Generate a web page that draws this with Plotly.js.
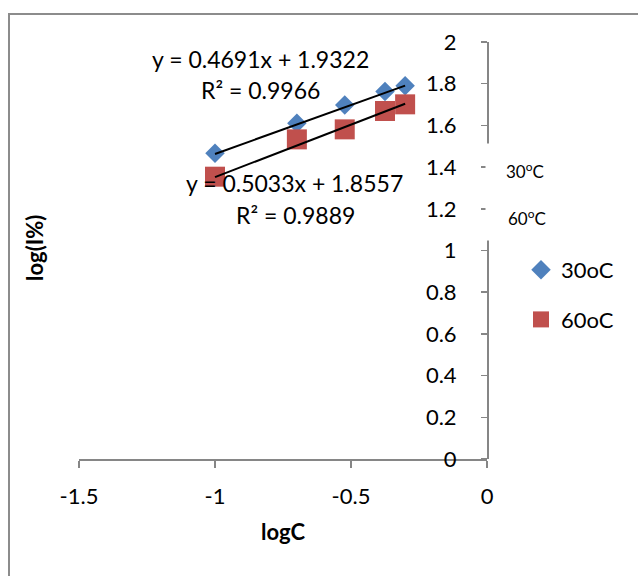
<!DOCTYPE html>
<html><head><meta charset="utf-8">
<script src="https://cdn.plot.ly/plotly-3.0.1.min.js"></script>
<style>html,body{margin:0;padding:0;overflow:hidden;background:#fff}
#frame{position:absolute;left:8px;top:13px;width:700px;height:700px;border:2px solid #8c8c8c;pointer-events:none}
</style></head><body>
<div id="chart" style="width:638px;height:576px"></div>
<div id="frame"></div>
<script>
const logC = [-1, -0.699, -0.523, -0.375, -0.301];
const y30 = [1.466, 1.610, 1.698, 1.762, 1.790];
const y60 = [1.354, 1.533, 1.581, 1.669, 1.701];
const trendX = [-1, -0.301];
const trend30 = [1.463, 1.791];
const trend60 = [1.352, 1.704];
const eq30 = ["y = 0.4691x + 1.9322", "R² = 0.9966"];
const eq60 = ["y = 0.5033x + 1.8557", "R² = 0.9889"];
const names = ["30oC", "60oC"];
const yTicks = [0, 0.2, 0.4, 0.6, 0.8, 1, 1.2, 1.4, 1.6, 1.8, 2];
const xTicks = [-1.5, -1, -0.5, 0];

const F = "Lato, 'Open Sans', sans-serif";
const FS = 22;
const traces = [
  {x: logC, y: y30, mode: 'markers', type: 'scatter', name: names[0], legendgroup: 'a',
   marker: {symbol: 'diamond', size: 15, color: '#4F81BD'}},
  {x: logC, y: y60, mode: 'markers', type: 'scatter', name: names[1], legendgroup: 'b',
   marker: {symbol: 'square', size: 20, color: '#C0504D'}},
  {x: trendX, y: trend30, mode: 'lines', type: 'scatter', showlegend: false,
   line: {color: '#000', width: 2}},
  {x: trendX, y: trend60, mode: 'lines', type: 'scatter', showlegend: false,
   line: {color: '#000', width: 2}}
];
const L = 79, R = 487, T = 42, B = 459;
const px = v => (v - L) / (R - L);
const py = v => (B - v) / (B - T);
const ann = (x, y, text, extra) => Object.assign({xref: 'paper', yref: 'paper', x: px(x), y: py(y), text: text,
  showarrow: false, xanchor: 'center', yanchor: 'middle'}, extra || {});
const EF = {family: F, size: 23};
const layout = {
  width: 638, height: 576,
  margin: {l: L, r: 638 - R, t: T, b: 576 - B, pad: 0},
  paper_bgcolor: '#fff', plot_bgcolor: 'rgba(0,0,0,0)',
  font: {family: F, size: FS, color: '#000'},
  showlegend: true,
  legend: {x: px(521), y: py(249), xanchor: 'left', yanchor: 'top', xref: 'paper', yref: 'paper',
           itemwidth: 30, font: {family: F, size: FS}, tracegroupgap: 18, traceorder: 'grouped',
           bgcolor: 'rgba(0,0,0,0)'},
  xaxis: {range: [-1.5, 0], tickvals: xTicks, ticktext: xTicks.map(String), showgrid: false, zeroline: false,
          showline: true, linecolor: '#868686', linewidth: 1.5, ticks: 'outside', ticklen: 7, tickcolor: '#868686',
          tickwidth: 1.5, ticklabelstandoff: 10, tickfont: {family: F, size: FS},
          title: {text: '<b>logC</b>', font: {family: F, size: FS}, standoff: 16}},
  yaxis: {range: [0, 2], tickvals: yTicks, ticktext: yTicks.map(String), showgrid: false, zeroline: false,
          anchor: 'free', position: 1, side: 'left',
          showline: true, linecolor: '#868686', linewidth: 1.5, ticks: 'outside', ticklen: 6, tickcolor: '#868686',
          tickwidth: 1.5, ticklabelstandoff: 20, tickfont: {family: F, size: FS}},
  annotations: [
    ann(525, 192, '', {bgcolor: '#fff', width: 78, height: 96, borderpad: 0}),
    ann(525, 170, '30<sup>o</sup>C', {font: {family: F, size: 17}}),
    ann(527, 217, '60<sup>o</sup>C', {font: {family: F, size: 17}}),
    ann(260, 59, eq30[0], {font: EF}),
    ann(260, 90, eq30[1], {font: EF}),
    ann(294, 183, eq60[0], {font: EF}),
    ann(295, 215, eq60[1], {font: EF}),
    ann(34, 248, '<b>log(I%)</b>', {textangle: -90})
  ]
};
Plotly.newPlot('chart', traces, layout, {displayModeBar: false, staticPlot: true});
</script></body></html>
